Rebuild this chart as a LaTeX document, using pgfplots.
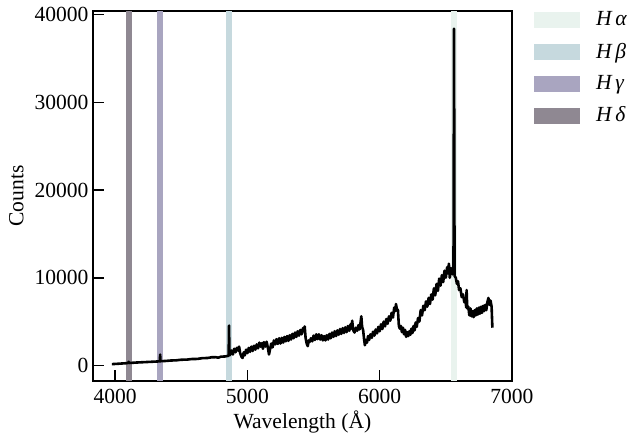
\documentclass[border=0pt]{standalone}
\usepackage{pgfplots}
\pgfplotsset{compat=1.18}
\usepackage{fontspec}
\setmainfont{Liberation Serif}
\definecolor{cHa}{HTML}{E9F3EE}
\definecolor{cHb}{HTML}{C6D9DE}
\definecolor{cHg}{HTML}{A9A5C0}
\definecolor{cHd}{HTML}{8F8892}
\begin{document}
\begin{tikzpicture}[font=\fontsize{10.8}{13}\selectfont]
\begin{axis}[
  name=ax,
  scale only axis, width=210pt, height=185.5pt,
  xmin=3831, xmax=7000, ymin=-1800, ymax=40420,
  xtick={4000,5000,6000,7000}, ytick={0,10000,20000,30000,40000},
  tick align=inside, xtick pos=bottom, ytick pos=left,
  major tick length=5.5pt,
  axis line style={line width=0.8pt},
  every tick/.style={line width=0.8pt, black},
  scaled ticks=false,
  /pgf/number format/1000 sep={},
  /pgf/number format/assume math mode=true,
  xticklabel style={inner sep=4pt},
  yticklabel style={inner sep=2pt},
  xlabel={Wavelength (Å)}, ylabel={Counts},
  xlabel style={yshift=4pt},
  legend style={at={(1,1.01)}, anchor=north west, draw=none, fill=none,
    xshift=8pt, row sep=7.1pt,
    /tikz/every even column/.append style={column sep=0pt},
    nodes={inner sep=0pt, anchor=west}},
  legend cell align=left,
  legend image code/.code={\fill[#1] (0pt,-4pt) rectangle (23pt,4pt); \path (31pt,0pt);},
]
\addplot[draw=none, fill=cHa] coordinates {(6541,-1800) (6541,40420) (6585,40420) (6585,-1800)} -- cycle;
\addlegendentry{\textit{H\,α}}
\addplot[draw=none, fill=cHb] coordinates {(4839,-1800) (4839,40420) (4883,40420) (4883,-1800)} -- cycle;
\addlegendentry{\textit{H\,β}}
\addplot[draw=none, fill=cHg] coordinates {(4318,-1800) (4318,40420) (4362,40420) (4362,-1800)} -- cycle;
\addlegendentry{\textit{H\,γ}}
\addplot[draw=none, fill=cHd] coordinates {(4080,-1800) (4080,40420) (4124,40420) (4124,-1800)} -- cycle;
\addlegendentry{\textit{H\,δ}}
\addplot[black, line width=1.3pt, line join=round, forget plot] coordinates {
(3975,150) (4000,170) (4030,200) (4060,230) (4090,260) (4100,300) (4102,420) (4104,280)
(4130,300) (4160,330) (4200,360) (4240,390) (4280,420) (4320,450) (4338,470) (4340,1250)
(4342,480) (4380,510) (4420,560) (4460,580) (4500,650) (4540,660) (4580,730) (4620,740)
(4660,830) (4700,850) (4730,930) (4760,940) (4780,880) (4800,1000) (4830,1020) (4850,1080)
(4858,1100) (4861,4550) (4864,1150)
(4870,1250) (4880,1700) (4890,1250) (4900,1900) (4910,1500) (4920,2000) (4930,1700) (4937,2150)
(4945,1400) (4955,1000) (4963,850) (4972,1500) (4980,1150) (4990,1800) (5000,1400) (5010,2000)
(5020,1550) (5030,2150) (5040,1650) (5050,2250) (5060,1800) (5070,2400) (5080,1950) (5090,2600)
(5100,2150) (5110,2550) (5117,1900) (5125,2650) (5135,2150) (5145,2700) (5155,2000) (5163,1250)
(5172,1900) (5180,2500) (5190,2050) (5200,2850) (5210,2400) (5220,3000) (5230,2450) (5240,3100)
(5250,2500) (5260,3150) (5270,2600) (5280,3250) (5290,2750) (5300,3350) (5310,2800) (5320,3450)
(5330,2950) (5340,3600) (5350,3100) (5360,3750) (5370,3250) (5380,3900) (5390,3400) (5400,4050)
(5410,3550) (5420,4250) (5428,3900) (5433,4450) (5440,3100) (5448,2500) (5456,2200) (5464,2850)
(5472,2700) (5480,3100) (5490,2750) (5500,3400) (5510,2900) (5520,3550) (5530,3000) (5540,3550)
(5550,2950) (5560,3450) (5570,2850) (5580,3350) (5590,2850) (5600,3450) (5610,2950) (5620,3600)
(5630,3100) (5640,3750) (5650,3250) (5660,3900) (5670,3350) (5680,4000) (5690,3500) (5700,4150)
(5710,3600) (5720,4250) (5730,3700) (5740,4350) (5750,3800) (5760,4500) (5770,3950) (5780,4700)
(5787,4200) (5792,5100) (5800,4000) (5810,3750) (5820,4300) (5830,3950) (5840,4600) (5848,4100)
(5856,5000) (5861,5600) (5867,4400) (5875,4000) (5882,3000) (5888,2300) (5896,2900) (5904,2600)
(5912,3350) (5920,2900) (5930,3550) (5940,3150) (5950,3850) (5960,3400) (5970,4100) (5980,3650)
(5990,4400) (6000,3900) (6010,4700) (6020,4150) (6030,5000) (6040,4450) (6050,5300) (6060,4750)
(6070,5600) (6080,5100) (6090,6000) (6100,5450) (6110,6600) (6118,6200) (6123,7000) (6130,6400)
(6138,6300) (6145,4500) (6152,4200) (6160,4500) (6168,3800) (6176,4300) (6184,3550) (6192,4050)
(6200,3250) (6208,3800) (6216,3350) (6224,3900) (6232,3500) (6240,4200) (6248,3700) (6256,4500)
(6264,4000) (6272,4900) (6280,4400) (6290,5400) (6300,5000) (6310,6300) (6320,5700) (6330,6800)
(6340,6300) (6350,7300) (6360,6700) (6370,7700) (6380,7000) (6390,8100) (6400,7500) (6410,8800)
(6420,8000) (6430,9300) (6440,8500) (6450,9900) (6460,9100) (6470,10300) (6480,9500) (6490,10800)
(6500,10000) (6510,11200) (6518,10500) (6523,11600) (6530,10000) (6540,11100) (6550,10400) (6558,11300)
(6562,38400) (6566,10200) (6575,10000) (6584,9300) (6592,9600) (6600,8600) (6610,8800) (6620,7800)
(6630,8100) (6640,7200) (6650,7400) (6654,6600) (6657,8600) (6662,6500) (6670,6700) (6678,5700)
(6686,6500) (6694,5600) (6702,6200) (6710,5500) (6718,6300) (6726,5700) (6734,6500) (6742,5800)
(6750,6600) (6758,5900) (6766,6700) (6774,6000) (6782,6800) (6790,6200) (6798,6900) (6806,6300)
(6814,7200) (6822,7700) (6830,6900) (6838,7400) (6846,6700) (6852,4300)
};
\end{axis}
\path (ax.south west) ++(-46.5pt,-26.5pt) rectangle ([xshift=60pt,yshift=5.5pt]ax.north east);
\end{tikzpicture}
\end{document}
